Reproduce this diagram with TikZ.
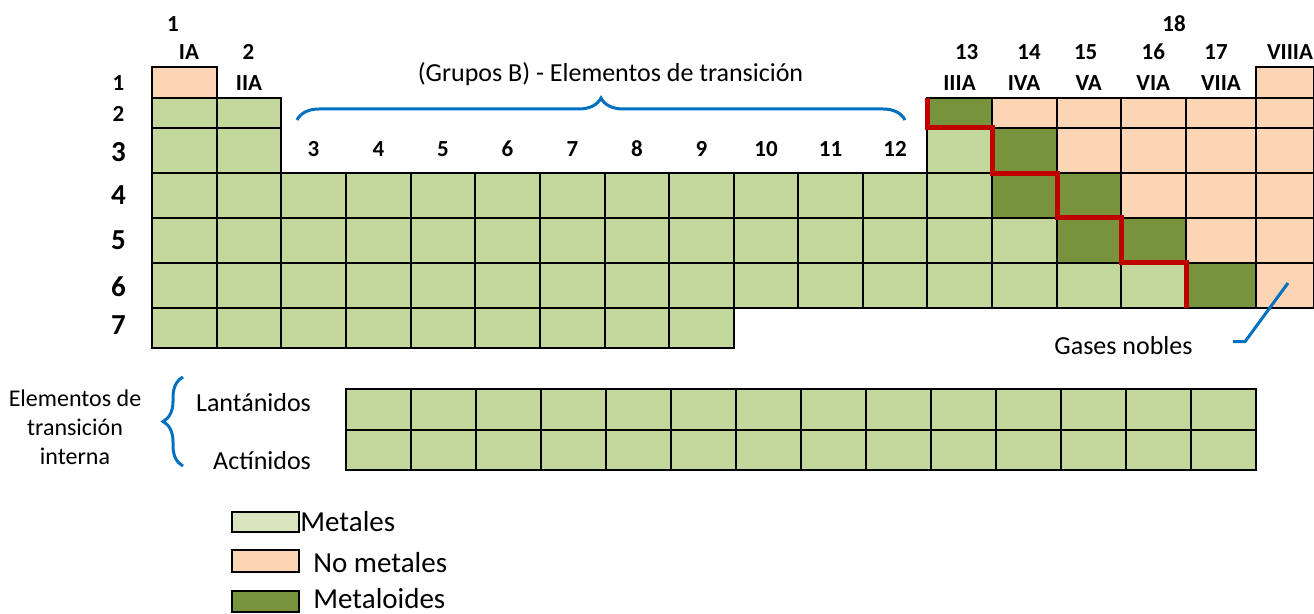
\documentclass[tikz,border=0pt]{standalone}
\usepackage{fontspec}
\setmainfont{Carlito}
\usetikzlibrary{decorations.pathreplacing}

\definecolor{metal}{HTML}{C3D69B}
\definecolor{legmetal}{HTML}{D7E4BD}
\definecolor{nometal}{HTML}{FCD5B5}
\definecolor{metaloide}{HTML}{77933C}
\definecolor{frontera}{HTML}{C00000}
\definecolor{llave}{HTML}{0070C0}

% column and row edges (pixels of the drawing)
\def\colx{{152,217,281,346,411,475,540,605,669,734,798,863,927,992,1057,1121,1186,1256,1314}}
\def\filay{{66.7,97.7,127.7,173.3,218,263,308,348}}

\newcommand\celda[3]{%
  \pgfmathsetmacro\xa{\colx[#1-1]}%
  \pgfmathsetmacro\xb{\colx[#1]}%
  \pgfmathsetmacro\ya{\filay[#2-1]}%
  \pgfmathsetmacro\yb{\filay[#2]}%
  \filldraw[fill=#3,draw=black,line width=1pt] (\xa,\ya) rectangle (\xb,\yb);}

\begin{document}
\begin{tikzpicture}[x=0.5pt,y=-0.5pt,
  grupo/.style={anchor=base,font=\fontsize{11.5}{13}\selectfont\bfseries},
  periodo/.style={anchor=base,font=\fontsize{14.5}{16}\selectfont\bfseries},
  texto/.style={font=\fontsize{13}{15}\selectfont},
  leyenda/.style={anchor=base west,font=\fontsize{14.5}{16}\selectfont},
  caja/.style={draw=black,line width=1pt},
  llaveb/.style={draw=llave,line width=1.5pt,decorate,decoration={brace,amplitude=#1}}]
\useasboundingbox (0,0) rectangle (1314,614);

% main table
\celda{1}{1}{nometal}
\celda{18}{1}{nometal}
\foreach \c in {1,2} {\celda{\c}{2}{metal}}
\celda{13}{2}{metaloide}
\foreach \c in {14,...,18} {\celda{\c}{2}{nometal}}
\foreach \c in {1,2,13} {\celda{\c}{3}{metal}}
\celda{14}{3}{metaloide}
\foreach \c in {15,...,18} {\celda{\c}{3}{nometal}}
\foreach \c in {1,...,13} {\celda{\c}{4}{metal}}
\foreach \c in {14,15} {\celda{\c}{4}{metaloide}}
\foreach \c in {16,17,18} {\celda{\c}{4}{nometal}}
\foreach \c in {1,...,14} {\celda{\c}{5}{metal}}
\foreach \c in {15,16} {\celda{\c}{5}{metaloide}}
\foreach \c in {17,18} {\celda{\c}{5}{nometal}}
\foreach \c in {1,...,16} {\celda{\c}{6}{metal}}
\celda{17}{6}{metaloide}
\celda{18}{6}{nometal}
\foreach \c in {1,...,9} {\celda{\c}{7}{metal}}

% metals / non-metals border
\draw[frontera,line width=2.5pt] (927,97.7) -- (927,127.7) -- (992,127.7) -- (992,173.3)
  -- (1057,173.3) -- (1057,218) -- (1121,218) -- (1121,263) -- (1186,263) -- (1186,308);

% lanthanides and actinides
\foreach \c in {0,...,13} {
  \filldraw[fill=metal,caja] (346+65*\c,389.3) rectangle (411+65*\c,430);
  \filldraw[fill=metal,caja] (346+65*\c,430) rectangle (411+65*\c,470);
}

% group labels
\node[grupo] (g1) at (173,32) {1};
\node[grupo] (g1a) at (189,60) {IA};
\node[grupo] (g2) at (248.5,60) {2};
\node[grupo] (g2a) at (249,91) {IIA};
\foreach \n in {3,...,12} {
  \pgfmathsetmacro\xl{\colx[\n-1]}
  \pgfmathsetmacro\xr{\colx[\n]}
  \node[grupo] (g\n) at ({(\xl+\xr)/2},157) {\n};
}
\node[grupo] (g13) at (966.7,60) {13};
\node[grupo] (g13a) at (959.5,91) {IIIA};
\node[grupo] (g14) at (1029,60) {14};
\node[grupo] (g14a) at (1024,91) {IVA};
\node[grupo] (g15) at (1085.7,60) {15};
\node[grupo] (g15a) at (1088.7,91) {VA};
\node[grupo] (g16) at (1153.3,60) {16};
\node[grupo] (g16a) at (1153.3,91) {VIA};
\node[grupo] (g17) at (1216,60) {17};
\node[grupo] (g17a) at (1221,91) {VIIA};
\node[grupo] (g18) at (1174,32) {18};
\node[grupo] (g18a) at (1290,60) {VIIIA};

% period labels
\node[grupo] (p1) at (118.5,91) {1};
\node[grupo] (p2) at (118.5,122) {2};
\foreach \p/\yb in {3/162,4/205,5/250,6/297,7/335}
  \node[periodo] (p\p) at (118.5,\yb) {\p};

% transition elements brace
\node[texto,anchor=base] (trans) at (610.5,81.7) {(Grupos B) - Elementos de transición};
\draw[llaveb=11pt] (297,120) -- (905,120);

% noble gases
\node[texto,anchor=base] (gases) at (1123.5,355) {Gases nobles};
\coordinate (gn1) at (1233,341.7);
\coordinate (gn2) at (1288,283);
\draw[llave,line width=1.5pt] (gn1) -- ++(12,0) -- (gn2);

% inner transition elements
\node[font=\fontsize{12}{14.5}\selectfont,align=center] (interna) at (75,427.5) {Elementos de\\transición\\interna};
\draw[llaveb=10pt] (183,466) -- (183,377);
\node[texto,anchor=base east] (lan) at (318,411.7) {Lantánidos};
\node[texto,anchor=base east] (act) at (318,470) {Actínidos};

% legend
\filldraw[fill=legmetal,caja] (232,512) rectangle (299,532);
\filldraw[fill=nometal,caja] (232,550) rectangle (299,571.7);
\filldraw[fill=metaloide,caja] (232,591) rectangle (299,612);
\node[leyenda,inner sep=0pt] (lmet) at (300,531.7) {Metales};
\node[leyenda,inner sep=0pt] (lnom) at (313,573) {No metales};
\node[leyenda,inner sep=0pt] (lmtd) at (313,608.5) {Metaloides};
\end{tikzpicture}
\end{document}
